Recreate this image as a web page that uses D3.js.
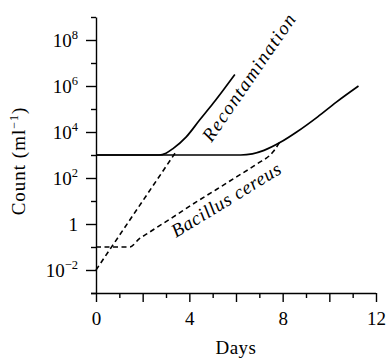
<!DOCTYPE html>
<html>
<head>
<meta charset="utf-8">
<script src="https://cdn.jsdelivr.net/npm/d3@7"></script>
<style>
  body { margin: 0; background: #fff; }
  svg text { font-family: "Liberation Serif", "Times New Roman", serif; fill: #000; }
</style>
</head>
<body>
<div id="chart"></div>
<script>
document.addEventListener("DOMContentLoaded", function () {
  const width = 386, height = 359;
  const margin = { top: 17, right: 10, bottom: 66, left: 96 };
  const serif = '"Liberation Serif", "Times New Roman", serif';

  // curves: [day, log10 count]
  const storedLine = [[0, 3], [6.2, 3], [6.7, 3.05], [7.2, 3.2], [7.9, 3.55], [8.6, 4.0], [9.5, 4.66], [10.3, 5.3], [11.25, 6.0]];
  const recontLine = [[0, 3], [2.7, 3], [3.0, 3.08], [3.3, 3.28], [3.87, 3.79], [4.44, 4.52], [5.02, 5.25], [5.45, 5.82], [5.95, 6.5]];
  const recontSeed = [[0, -2], [3.4, 3.1]];
  const cereusLine = [[0, -1], [1.45, -1], [1.85, -0.65], [2.3, -0.35], [3.3, 0.3], [4.3, 0.96], [5.16, 1.5], [6.02, 2.05], [6.88, 2.6], [7.6, 3.15], [7.9, 3.6]];

  // axes
  const dayTicks = d3.range(0, 13);
  const dayLabels = [0, 4, 8, 12];
  const decades = d3.range(-3, 10);
  const decadeLabels = [-2, 0, 2, 4, 6, 8];

  const svg = d3.select("#chart").append("svg")
    .attr("width", width)
    .attr("height", height);

  const x = d3.scaleLinear().domain([0, 12]).range([margin.left, width - margin.right]);
  const y = d3.scaleLog().domain([1e-3, 1e9]).range([height - margin.bottom, margin.top]);

  const axisY0 = height - margin.bottom;

  // x axis: long ticks on even days, short on odd
  const gx = svg.append("g").attr("transform", `translate(0,${axisY0})`);
  gx.call(d3.axisBottom(x)
      .tickValues(dayTicks.filter(d => d % 2 === 0))
      .tickSize(9).tickSizeOuter(0)
      .tickFormat(d => dayLabels.includes(d) ? d : ""));
  gx.append("g").call(d3.axisBottom(x)
      .tickValues(dayTicks.filter(d => d % 2 === 1))
      .tickSize(5).tickSizeOuter(0).tickFormat(""))
    .select(".domain").remove();
  gx.selectAll("text")
    .attr("y", 32).attr("dy", null)
    .attr("font-size", "19px");

  // y axis: long ticks on labelled decades
  const gy = svg.append("g").attr("transform", `translate(${margin.left},0)`);
  gy.call(d3.axisLeft(y)
      .tickValues(decadeLabels.map(e => Math.pow(10, e)))
      .tickSize(10).tickSizeOuter(0)
      .tickFormat(""));
  gy.append("g").call(d3.axisLeft(y)
      .tickValues(decades.filter(e => !decadeLabels.includes(e)).map(e => Math.pow(10, e)))
      .tickSize(5).tickSizeOuter(0).tickFormat(""))
    .select(".domain").remove();

  svg.selectAll(".domain, .tick line")
    .attr("stroke", "#000").attr("stroke-width", 1.4);
  gx.select(".domain").attr("d", `M${x(0) - 5},0.5H${x(12)}`);

  decadeLabels.forEach(e => {
    const t = svg.append("text")
      .attr("x", margin.left - 18)
      .attr("y", y(Math.pow(10, e)) + 6.5)
      .attr("text-anchor", "end")
      .attr("font-size", "19px");
    if (e === 0) {
      t.text("1");
    } else {
      t.append("tspan").text("10");
      t.append("tspan").attr("font-size", "12.5px").attr("dy", -7.5)
        .text(e < 0 ? "\u2212" + (-e) : e);
    }
  });

  // axis titles
  svg.append("text")
    .attr("x", x(6))
    .attr("y", 354)
    .attr("text-anchor", "middle")
    .attr("font-size", "19px")
    .attr("letter-spacing", "0.5px")
    .text("Days");

  const yt = svg.append("text")
    .attr("transform", "translate(25,161) rotate(-90)")
    .attr("text-anchor", "middle")
    .attr("font-size", "19px")
    .attr("letter-spacing", "1px");
  yt.append("tspan").text("Count (ml");
  yt.append("tspan").attr("font-size", "12px").attr("dy", -7).text("\u22121");
  yt.append("tspan").attr("dy", 7).text(")");

  // curves
  const line = d3.line()
    .x(d => x(d[0]))
    .y(d => y(Math.pow(10, d[1])))
    .curve(d3.curveMonotoneX);

  svg.append("path").datum(storedLine)
    .attr("d", line).attr("fill", "none")
    .attr("stroke", "#000").attr("stroke-width", 1.7);
  svg.append("path").datum(recontLine)
    .attr("d", line).attr("fill", "none")
    .attr("stroke", "#000").attr("stroke-width", 1.7);
  svg.append("path").datum(recontSeed)
    .attr("d", line.curve(d3.curveLinear)).attr("fill", "none")
    .attr("stroke", "#000").attr("stroke-width", 1.6)
    .attr("stroke-dasharray", "5,3.5");
  svg.append("path").datum(cereusLine)
    .attr("d", line.curve(d3.curveMonotoneX)).attr("fill", "none")
    .attr("stroke", "#000").attr("stroke-width", 1.6)
    .attr("stroke-dasharray", "5,3.5");

  // curve labels
  svg.append("text")
    .attr("transform", "translate(211.5,143) rotate(-55.5)")
    .attr("font-size", "19px")
    .attr("font-style", "italic")
    .attr("textLength", 150)
    .text("Recontamination");

  svg.append("text")
    .attr("transform", "translate(176,238) rotate(-31.5)")
    .attr("font-size", "19px")
    .attr("font-style", "italic")
    .attr("textLength", 125)
    .text("Bacillus cereus");

  svg.selectAll("text").style("font-family", serif);
});
</script>
</body>
</html>
